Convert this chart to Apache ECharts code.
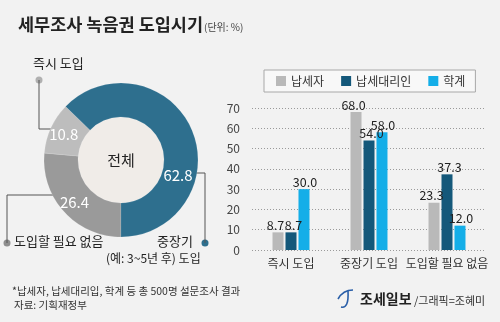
<!DOCTYPE html>
<html><head><meta charset="utf-8">
<script src="https://cdn.jsdelivr.net/npm/echarts@6/dist/echarts.min.js"></script>
<style>html,body{margin:0;padding:0;background:#f2f2f2}#c{width:500px;height:322px}</style>
</head><body><div id="c"></div>
<script>
var pieNames = ['즉시 도입', '도입할 필요 없음', '중장기 도입'];
var pieValues = [10.8, 26.4, 62.8];
var pieColors = ['#bdbdbd', '#9a9a9a', '#2e6f8e'];

var barCategories = ['즉시 도입', '중장기 도입', '도입할 필요 없음'];
var seriesNames = ['납세자', '납세대리인', '학계'];
var taxpayer = [8.7, 68.0, 23.3];
var agent = [8.7, 54.0, 37.3];
var academia = [30.0, 58.0, 12.0];
var barColors = ['#b9b9b9', '#14587a', '#14aee8'];
var yTicks = [0, 10, 20, 30, 40, 50, 60, 70];

var F = '"Noto Sans CJK KR", "Noto Sans", sans-serif';
var chart = echarts.init(document.getElementById('c'));

function barSeries(name, data, color, dx) {
  return {
    type: 'bar', name: name, data: data, barWidth: 11, barGap: '18%',
    itemStyle: { color: color },
    label: { show: true, position: 'top', distance: 1, offset: [dx, 0], color: '#222', fontSize: 12.5, fontFamily: F,
      formatter: function (p) { return p.value.toFixed(1); } }
  };
}

var pieData = pieValues.map(function (v, i) {
  var d = { name: pieNames[i], value: v, itemStyle: { color: pieColors[i] } };
  if (i === 2) d.label = { offset: [-1, 40] };
  return d;
});

chart.setOption({
  backgroundColor: '#f2f2f2',
  animation: false,
  textStyle: { fontFamily: F },
  title: [
    { text: '세무조사 녹음권 도입시기', left: 13, top: 11,
      textStyle: { fontSize: 17.5, fontWeight: 'bold', color: '#222', fontFamily: F } },
    { text: '(단위: %)', left: 199, top: 17,
      textStyle: { fontSize: 10, fontWeight: 'normal', color: '#444', fontFamily: F } }
  ],
  legend: {
    data: seriesNames, left: 264, top: 70, width: 207, height: 14,
    padding: [5, 10, 5, 12], itemGap: 17, itemWidth: 10, itemHeight: 10, icon: 'rect',
    borderColor: '#a8a8a8', borderWidth: 1, backgroundColor: '#f8f8f8',
    textStyle: { fontSize: 12, color: '#333', fontFamily: F }
  },
  grid: { left: 252, right: 14, top: 108, bottom: 72 },
  xAxis: {
    type: 'category', data: barCategories,
    axisLine: { show: false }, axisTick: { show: false },
    axisLabel: { interval: 0, fontSize: 12, color: '#333', margin: 7, fontFamily: F }
  },
  yAxis: {
    type: 'value', min: 0, max: 70, interval: 10,
    axisLine: { show: false }, axisTick: { show: false },
    axisLabel: { fontSize: 12, color: '#444', margin: 12, fontFamily: F,
      formatter: function (v) { return yTicks.indexOf(v) >= 0 ? String(v) : ''; } },
    splitLine: { lineStyle: { color: '#9a9a9a', type: [1, 2], width: 1 } }
  },
  series: [
    barSeries(seriesNames[0], taxpayer, barColors[0], -2.5),
    barSeries(seriesNames[1], agent, barColors[1], 2.5),
    barSeries(seriesNames[2], academia, barColors[2], 1),
    {
      type: 'pie', center: [121, 160], radius: [43, 77], startAngle: 136, clockwise: false,
      silent: true, data: pieData, z: 3,
      itemStyle: { borderColor: 'rgba(255,255,255,0.25)', borderWidth: 0.5 },
      label: { show: true, position: 'inside', color: '#fff', fontSize: 15, fontFamily: F,
        formatter: function (p) { return p.value.toFixed(1); } },
      labelLine: { show: false }
    },
    {
      type: 'pie', center: [121, 160], radius: [0, 43], silent: true, z: 2,
      data: [{ name: '전체', value: 1, itemStyle: { color: '#f0ece8' } }],
      label: { show: true, position: 'center', color: '#222', fontSize: 15, fontFamily: F, formatter: '{b}' },
      labelLine: { show: false }
    }
  ],
  graphic: [
    { type: 'text', left: 33, top: 57, style: { text: '즉시 도입', fontSize: 13, fill: '#222', fontFamily: F } },
    { type: 'circle', shape: { cx: 39, cy: 80, r: 3.5 }, style: { fill: '#b0b0b0' } },
    { type: 'polyline', shape: { points: [[39, 80], [39, 129], [58, 129]] }, style: { stroke: '#555', lineWidth: 1, fill: null } },

    { type: 'text', left: 14, top: 235, style: { text: '도입할 필요 없음', fontSize: 13, fill: '#222', fontFamily: F } },
    { type: 'circle', shape: { cx: 7, cy: 243, r: 3.5 }, style: { fill: '#8f8f8f' } },
    { type: 'polyline', shape: { points: [[7, 243], [7, 195], [54, 195]] }, style: { stroke: '#555', lineWidth: 1, fill: null } },

    { type: 'text', left: 157, top: 235, style: { text: '중장기', fontSize: 13, fill: '#222', fontFamily: F } },
    { type: 'text', left: 106, top: 252, style: { text: '(예: 3~5년 후) 도입', fontSize: 12, fill: '#222', fontFamily: F } },
    { type: 'circle', shape: { cx: 205, cy: 243, r: 3.5 }, style: { fill: '#2e6f8e' } },
    { type: 'polyline', shape: { points: [[205, 243], [205, 173], [194, 173]] }, style: { stroke: '#555', lineWidth: 1, fill: null } },

    { type: 'text', left: 12, top: 286, style: { text: '*납세자, 납세대리입, 학계 등 총 500명 설문조사 결과', fontSize: 10.5, fill: '#333', fontFamily: F } },
    { type: 'text', left: 14, top: 300, style: { text: '자료: 기획재정부', fontSize: 10.5, fill: '#333', fontFamily: F } },

    { type: 'bezierCurve', shape: { x1: 338, y1: 299, cpx1: 343, cpy1: 290, x2: 353, y2: 290 }, style: { stroke: '#2a5fa8', lineWidth: 1.6, fill: null } },
    { type: 'bezierCurve', shape: { x1: 348, y1: 291, cpx1: 349, cpy1: 309, x2: 341, y2: 307 }, style: { stroke: '#2a5fa8', lineWidth: 1.6, fill: null } },
    { type: 'text', left: 360, top: 292, style: { text: '조세일보', fontSize: 14, fontWeight: 'bold', fill: '#222', fontFamily: F } },
    { type: 'text', left: 414, top: 295, style: { text: '/그래픽=조혜미', fontSize: 11, fill: '#333', fontFamily: F } }
  ]
});
</script></body></html>
